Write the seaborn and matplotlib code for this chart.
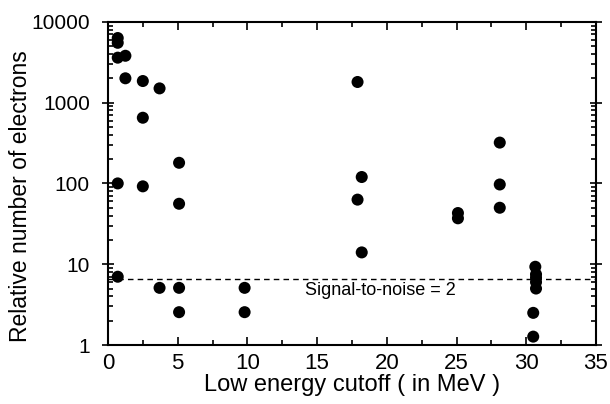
import numpy as np
import pandas as pd
import seaborn as sns
import matplotlib.pyplot as plt
from matplotlib.ticker import LogLocator, MultipleLocator, FixedLocator, NullFormatter

# valeurs
cutoff = [0.7, 0.7, 0.7, 1.25, 1.25, 2.5, 3.7, 2.5, 5.1, 0.7, 2.5, 5.1,
          0.7, 3.7, 5.1, 5.1, 9.8, 9.8,
          17.9, 18.2, 17.9, 18.2, 25.1, 25.1, 28.1, 28.1, 28.1,
          30.65, 30.7, 30.7, 30.7, 30.7, 30.5, 30.5]
electrons = [6300, 5500, 3600, 3800, 2000, 1850, 1500, 650, 180, 100, 92, 56,
             7.0, 5.1, 5.1, 2.55, 5.1, 2.55,
             1800, 120, 63, 14, 43, 37, 320, 97, 50,
             9.3, 7.5, 6.8, 6.0, 5.0, 2.5, 1.27]
seuil = 6.6
texte_seuil = "Signal-to-noise = 2"

df = pd.DataFrame({"cutoff": cutoff, "electrons": electrons})

sns.set_style("ticks")
plt.rcParams["font.family"] = ["Liberation Sans", "DejaVu Sans"]
plt.rcParams.update({"text.color": "black", "axes.labelcolor": "black",
                     "xtick.color": "black", "ytick.color": "black"})

fig = plt.figure(figsize=(6.1, 4.04), dpi=100)
ax = fig.add_axes([0.177, 0.146, 0.800, 0.800])

sns.scatterplot(data=df, x="cutoff", y="electrons", color="black", s=75,
                edgecolor="none", ax=ax, zorder=3)
ax.plot([0, 35], [seuil, seuil], color="black", lw=1.0, ls=(0, (4, 3)))
ax.text(14.1, seuil * 0.9, texte_seuil, fontsize=13, va="top", ha="left")

ax.set_yscale("log")
ax.set_xlim(0, 35)
ax.set_ylim(1, 10000)
ax.xaxis.set_major_locator(MultipleLocator(5))
ax.xaxis.set_minor_locator(MultipleLocator(2.5))
ax.yaxis.set_major_locator(FixedLocator([1, 10, 100, 1000, 10000]))
ax.yaxis.set_major_formatter(plt.FuncFormatter(lambda v, p: f"{int(v)}"))
ax.yaxis.set_minor_locator(LogLocator(base=10, subs=np.arange(2, 10)))
ax.yaxis.set_minor_formatter(NullFormatter())

ax.tick_params(which="both", direction="in", top=True, right=True,
               width=1.2, color="black")
ax.tick_params(which="major", length=6)
ax.tick_params(which="minor", length=3.5)
ax.tick_params(axis="y", which="major", direction="inout", length=8,
               labelsize=15, pad=9)
ax.tick_params(axis="x", labelsize=16, pad=6)
for sp in ax.spines.values():
    sp.set_linewidth(1.5)
    sp.set_color("black")

ax.set_xlabel("Low energy cutoff ( in MeV )", fontsize=17, labelpad=0)
ax.set_ylabel("Relative number of electrons", fontsize=16.5)
ax.yaxis.set_label_coords(-0.156, 0.461)

plt.savefig("out.png", dpi=100)
